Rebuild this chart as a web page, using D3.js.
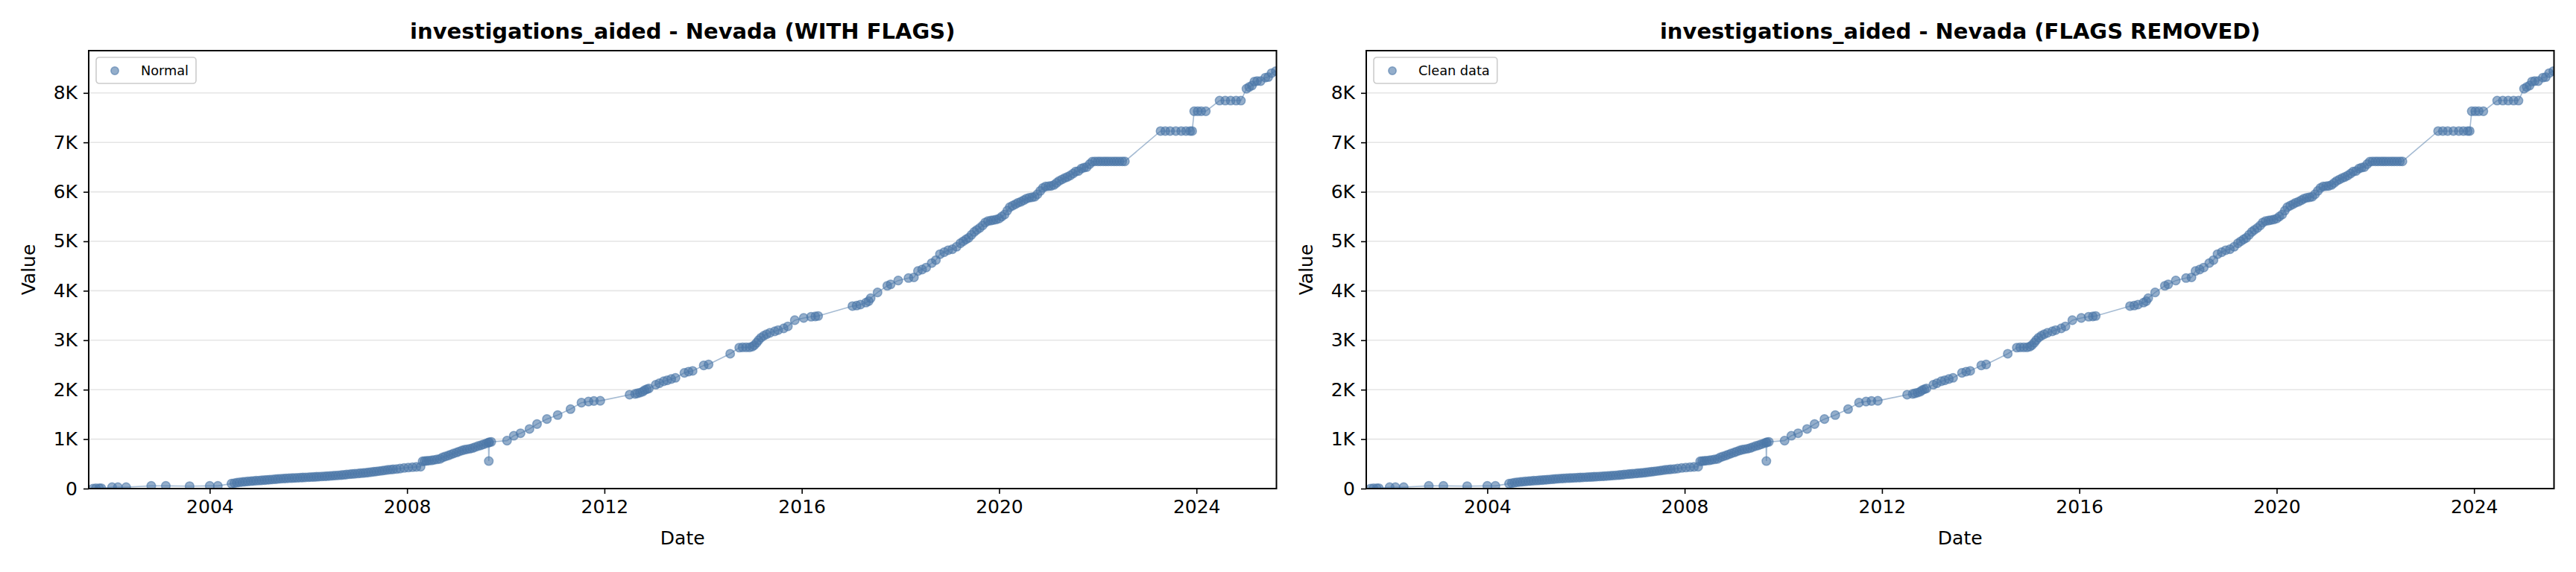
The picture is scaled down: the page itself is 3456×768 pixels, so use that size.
<!DOCTYPE html>
<html><head><meta charset="utf-8">
<script src="https://cdn.jsdelivr.net/npm/d3@7"></script>
<style>
body{margin:0;background:#fff}
svg{display:block}
text{font-family:"DejaVu Sans",sans-serif}
</style>
</head><body>
<svg id="c" width="3456" height="768"></svg>
<script>
// ---- data ----
const dates = [
"2001-08-20","2001-09-10","2001-10-05","2001-10-20","2002-01-08","2002-02-20","2002-04-22",
"2002-10-25","2003-02-10","2003-08-05","2004-01-01","2004-03-01",
"2004-06-10","2004-07-01","2004-07-20","2004-08-10","2004-09-01","2004-09-20","2004-10-10","2004-11-01","2004-11-20","2004-12-10",
"2005-01-01","2005-01-20","2005-02-10","2005-03-01","2005-03-20","2005-04-10","2005-05-01","2005-05-20","2005-06-10","2005-07-01","2005-07-20","2005-08-10","2005-09-01","2005-09-20","2005-10-10","2005-11-01","2005-11-20","2005-12-10",
"2006-01-01","2006-01-20","2006-02-10","2006-03-01","2006-03-20","2006-04-10","2006-05-01","2006-05-20","2006-06-10","2006-07-01","2006-07-20","2006-08-10","2006-09-01","2006-09-20","2006-10-10","2006-11-01","2006-11-20","2006-12-10",
"2007-01-01","2007-01-20","2007-02-10","2007-03-01","2007-03-20","2007-04-10","2007-05-01","2007-05-20","2007-06-10","2007-07-01","2007-07-20","2007-08-10","2007-09-01","2007-09-20","2007-10-15","2007-11-10","2007-12-10",
"2008-01-10","2008-02-10","2008-03-10","2008-04-10","2008-04-25","2008-05-10","2008-05-25","2008-06-10","2008-07-01","2008-07-20","2008-08-10","2008-09-01","2008-09-20","2008-10-10","2008-11-01","2008-11-20","2008-12-10",
"2009-01-01","2009-01-20","2009-02-10","2009-03-01","2009-03-20","2009-04-10","2009-05-01","2009-05-20","2009-06-10","2009-07-01","2009-07-20","2009-08-10","2009-08-25","2009-08-28","2009-09-01","2009-09-15",
"2010-01-10","2010-03-01","2010-04-20","2010-06-25","2010-08-20","2010-11-01","2011-01-20","2011-04-25","2011-07-15","2011-09-05","2011-10-15","2011-12-01",
"2012-07-05","2012-08-15","2012-09-01","2012-09-20","2012-10-10","2012-10-25","2012-11-10","2012-11-25",
"2013-01-15","2013-02-10","2013-03-15","2013-04-10","2013-05-10","2013-06-10","2013-08-15","2013-09-15","2013-10-15",
"2014-01-05","2014-02-10","2014-07-20","2014-09-25","2014-10-20","2014-11-15","2014-12-10","2014-12-31",
"2015-01-15","2015-02-01","2015-02-15","2015-03-05","2015-03-25","2015-04-15","2015-05-10","2015-06-15","2015-07-10","2015-08-20","2015-09-20","2015-11-10",
"2016-01-15","2016-03-10","2016-04-10","2016-05-01",
"2017-01-10","2017-02-10","2017-03-10","2017-04-20","2017-05-10","2017-05-25","2017-07-15","2017-09-25","2017-10-20","2017-12-15",
"2018-03-01","2018-04-10","2018-05-10","2018-06-10","2018-07-10","2018-08-20","2018-09-20","2018-10-20","2018-11-20","2018-12-20",
"2019-01-20","2019-02-20","2019-03-20","2019-04-10","2019-05-01","2019-05-20","2019-06-10","2019-07-01","2019-07-20","2019-08-10","2019-09-01","2019-09-20","2019-10-10","2019-11-01","2019-11-20","2019-12-10",
"2020-01-01","2020-01-20","2020-02-10","2020-03-01","2020-03-20","2020-04-10","2020-05-01","2020-05-20","2020-06-10","2020-07-01","2020-07-20","2020-08-10","2020-09-01","2020-09-20","2020-10-10","2020-11-01","2020-11-20","2020-12-10",
"2021-01-01","2021-01-20","2021-02-10","2021-03-01","2021-03-20","2021-04-10","2021-05-01","2021-05-20","2021-06-10","2021-07-01","2021-07-20","2021-08-10","2021-09-01","2021-09-20","2021-10-10","2021-11-01","2021-11-20","2021-12-10",
"2022-01-01","2022-01-20","2022-02-10","2022-03-01","2022-03-20","2022-04-10","2022-05-01","2022-05-20","2022-06-10","2022-07-01","2022-07-20",
"2023-04-10","2023-05-15","2023-06-20","2023-08-01","2023-09-10","2023-10-15","2023-11-15","2023-11-30",
"2023-12-15","2024-01-10","2024-02-05","2024-03-10",
"2024-06-20","2024-08-01","2024-09-10","2024-10-20","2024-11-25",
"2025-01-05","2025-01-25","2025-02-15","2025-03-05","2025-03-25","2025-04-20","2025-05-25","2025-06-15","2025-07-10","2025-08-10"
];
const values = [
0,5,5,8,30,30,30,
55,55,50,55,55,
100,110,120,128,135,140,145,150,155,160,
163,168,172,176,180,185,190,195,200,203,207,210,213,215,218,221,224,227,
230,233,236,239,242,245,248,252,256,260,264,268,273,278,284,290,296,300,
305,310,315,320,326,333,340,347,355,362,370,378,385,390,395,405,417,
425,432,438,441,552,555,560,565,570,580,590,600,630,650,668,690,710,
730,750,770,785,795,805,820,840,860,875,895,915,930,557,935,945,
969,1069,1119,1205,1305,1406,1486,1607,1737,1760,1772,1775,
1898,1915,1925,1940,1960,1990,2010,2025,
2100,2130,2170,2190,2215,2240,2340,2365,2380,
2490,2510,2726,2850,2855,2855,2855,2870,
2900,2950,3000,3050,3090,3120,3150,3180,3205,3240,3280,3405,
3450,3475,3480,3490,
3690,3700,3720,3760,3790,3850,3966,4100,4130,4207,
4257,4270,4400,4430,4470,4560,4620,4740,4780,4820,
4840,4890,4960,5000,5040,5070,5130,5190,5230,5270,5320,5380,5410,5420,5430,5440,
5460,5500,5540,5620,5690,5720,5750,5780,5800,5830,5860,5880,5890,5900,5950,6020,6080,6110,
6115,6120,6140,6180,6220,6250,6280,6300,6330,6370,6410,6420,6470,6490,6500,6560,6610,6615,
6616,6616,6616,6616,6616,6616,6616,6616,6616,6616,6616,
7229,7229,7229,7229,7229,7229,7229,7229,
7630,7630,7630,7630,
7845,7845,7845,7845,7845,
8085,8120,8150,8230,8240,8240,8310,8320,8400,8440
];
const panelTitles = [
  "investigations_aided - Nevada (WITH FLAGS)",
  "investigations_aided - Nevada (FLAGS REMOVED)"
];
const legendLabels = ["Normal", "Clean data"];
const yTickValues = [0, 1000, 2000, 3000, 4000, 5000, 6000, 7000, 8000];
const xTickYears = [2004, 2008, 2012, 2016, 2020, 2024];
const xDomainDates = ["2001-07-19", "2025-08-15"];
const yDomain = [0, 8855];
const xLabel = "Date";
const yLabel = "Value";

// ---- drawing ----
const parse = d3.utcParse("%Y-%m-%d");
const data = dates.map((d, i) => ({date: parse(d), value: values[i]}));
const color = "#4C78A8";
const svg = d3.select("#c");

const panelLefts = [119, 1833];
const panelTop = 68, W = 1593.5, H = 588;
const markerR = 5.8;

panelLefts.forEach((left, p) => {
  const g = svg.append("g").attr("transform", `translate(${left},${panelTop})`);
  const x = d3.scaleUtc().domain(xDomainDates.map(parse)).range([0, W]);
  const y = d3.scaleLinear().domain(yDomain).range([H, 0]);
  const clipId = "clip" + p;
  g.append("clipPath").attr("id", clipId).append("rect").attr("width", W).attr("height", H);

  // grid
  g.append("g").selectAll("line").data(yTickValues).join("line")
    .attr("x1", 0).attr("x2", W).attr("y1", d => y(d)).attr("y2", d => y(d))
    .attr("stroke", "#e5e5e5").attr("stroke-width", 1.6);

  const plot = g.append("g").attr("clip-path", `url(#${clipId})`);
  const line = d3.line().x(d => x(d.date)).y(d => y(d.value));
  plot.append("path").datum(data).attr("d", line)
    .attr("fill", "none").attr("stroke", color).attr("stroke-opacity", 0.5).attr("stroke-width", 1.6);
  plot.append("g").selectAll("circle").data(data).join("circle")
    .attr("cx", d => x(d.date)).attr("cy", d => y(d.value)).attr("r", markerR)
    .attr("fill", color).attr("fill-opacity", 0.6)
    .attr("stroke", color).attr("stroke-opacity", 0.6).attr("stroke-width", 1.5);

  // axes
  const xAxis = d3.axisBottom(x)
    .tickValues(xTickYears.map(yr => new Date(Date.UTC(yr, 0, 1))))
    .tickFormat(d3.utcFormat("%Y")).tickSize(7).tickPadding(8);
  const gx = g.append("g").attr("transform", `translate(0,${H})`).call(xAxis);
  const yAxis = d3.axisLeft(y).tickValues(yTickValues)
    .tickFormat(d => d === 0 ? "0" : (d / 1000) + "K").tickSize(7).tickPadding(8);
  const gy = g.append("g").call(yAxis);
  [gx, gy].forEach(a => {
    a.select(".domain").remove();
    a.selectAll(".tick line").attr("stroke", "#000").attr("stroke-width", 1.6);
    a.selectAll(".tick text").attr("font-size", 25).attr("fill", "#000")
      .attr("font-family", "DejaVu Sans");
  });

  // frame
  g.append("rect").attr("width", W).attr("height", H)
    .attr("fill", "none").attr("stroke", "#000").attr("stroke-width", 2);

  // titles and labels
  g.append("text").attr("x", W / 2).attr("y", -16).attr("text-anchor", "middle")
    .attr("font-size", 29).attr("font-weight", "bold").text(panelTitles[p]);
  g.append("text").attr("x", W / 2).attr("y", H + 75).attr("text-anchor", "middle")
    .attr("font-size", 25).text(xLabel);
  g.append("text").attr("transform", `translate(-72,${H / 2}) rotate(-90)`)
    .attr("text-anchor", "middle").attr("font-size", 25).text(yLabel);

  // legend
  const lg = g.append("g").attr("transform", "translate(10,9)");
  const lt = lg.append("text").attr("x", 60).attr("y", 24).attr("font-size", 17.7).text(legendLabels[p]);
  const tw = lt.node().getComputedTextLength();
  lg.insert("rect", "text").attr("width", 60 + tw + 10).attr("height", 35).attr("rx", 4)
    .attr("fill", "#fff").attr("fill-opacity", 0.8).attr("stroke", "#cccccc").attr("stroke-width", 1.6);
  lg.append("circle").attr("cx", 25).attr("cy", 18).attr("r", 5.2)
    .attr("fill", color).attr("fill-opacity", 0.6)
    .attr("stroke", color).attr("stroke-opacity", 0.6).attr("stroke-width", 1.5);
});
</script>
</body></html>
